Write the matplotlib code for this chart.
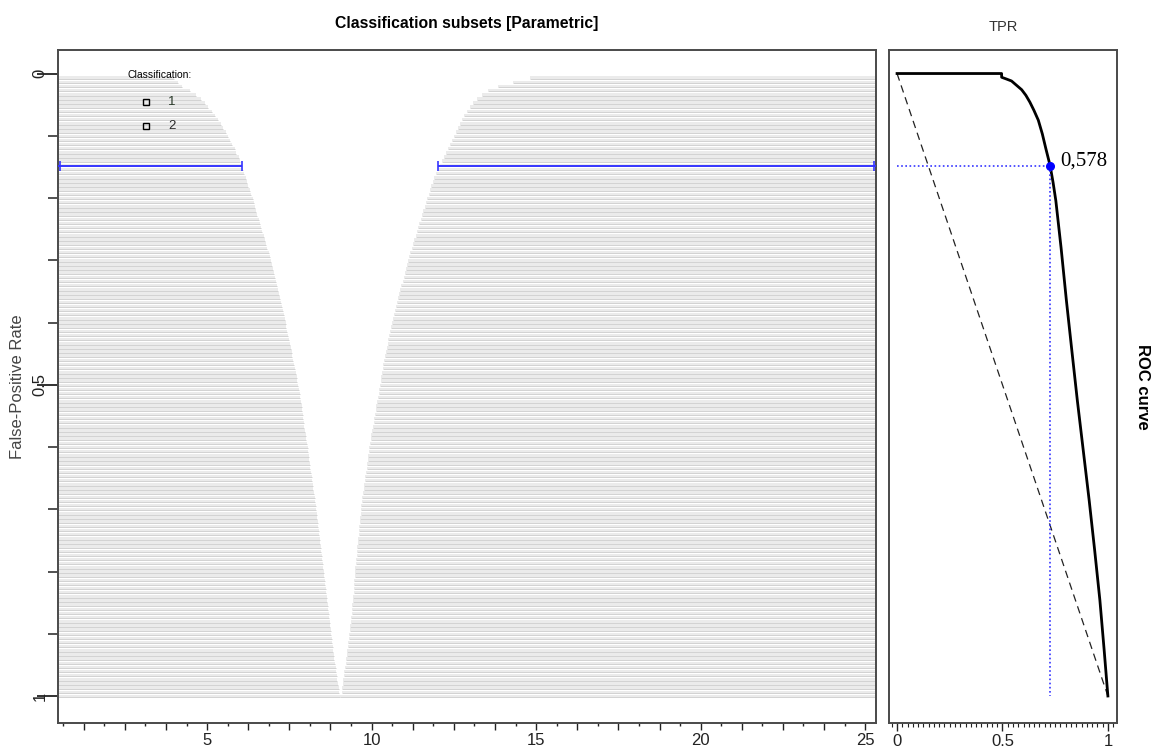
import numpy as np
import matplotlib
matplotlib.use("Agg")
import matplotlib.pyplot as plt
from matplotlib.ticker import MultipleLocator, FixedLocator, FuncFormatter

plt.rcParams['font.family'] = ['Liberation Sans', 'DejaVu Sans']

# classification subsets: one row per FPR level (k/150)
fpr_rows = np.arange(1, 151) / 150

# upper end of class-1 subset for each row
left_edge = [
    3.99, 4.12, 4.25, 4.47, 4.67, 4.82, 4.93, 5.04, 5.14, 5.25,
    5.33, 5.41, 5.49, 5.57, 5.65, 5.71, 5.77, 5.84, 5.89, 5.97,
    6.01, 6.06, 6.09, 6.13, 6.17, 6.21, 6.25, 6.29, 6.34, 6.39,
    6.42, 6.46, 6.50, 6.53, 6.57, 6.61, 6.64, 6.68, 6.72, 6.76,
    6.79, 6.83, 6.87, 6.90, 6.93, 6.97, 7.00, 7.03, 7.07, 7.10,
    7.13, 7.16, 7.20, 7.23, 7.26, 7.29, 7.31, 7.34, 7.36, 7.39,
    7.41, 7.44, 7.46, 7.49, 7.52, 7.54, 7.57, 7.59, 7.62, 7.64,
    7.67, 7.69, 7.72, 7.74, 7.77, 7.79, 7.81, 7.83, 7.85, 7.87,
    7.89, 7.91, 7.92, 7.94, 7.96, 7.98, 8.00, 8.02, 8.04, 8.06,
    8.08, 8.09, 8.11, 8.13, 8.14, 8.16, 8.18, 8.20, 8.21, 8.23,
    8.25, 8.27, 8.28, 8.30, 8.31, 8.33, 8.34, 8.36, 8.37, 8.39,
    8.40, 8.42, 8.43, 8.45, 8.46, 8.48, 8.49, 8.51, 8.52, 8.54,
    8.56, 8.57, 8.59, 8.60, 8.62, 8.64, 8.65, 8.67, 8.68, 8.70,
    8.71, 8.73, 8.74, 8.76, 8.77, 8.79, 8.80, 8.82, 8.83, 8.85,
    8.87, 8.89, 8.91, 8.92, 8.94, 8.96, 8.98, 9.00, 9.02, 9.04,
]

# lower end of class-2 subset for each row
right_edge = [
    14.80, 14.30, 13.85, 13.55, 13.35, 13.20, 13.09, 12.99, 12.91, 12.82,
    12.75, 12.69, 12.62, 12.56, 12.50, 12.44, 12.38, 12.32, 12.26, 12.20,
    12.14, 12.08, 12.02, 11.96, 11.91, 11.86, 11.81, 11.77, 11.73, 11.69,
    11.65, 11.61, 11.57, 11.53, 11.49, 11.45, 11.42, 11.38, 11.34, 11.30,
    11.26, 11.22, 11.18, 11.15, 11.11, 11.08, 11.04, 11.01, 10.97, 10.94,
    10.90, 10.87, 10.83, 10.80, 10.77, 10.74, 10.71, 10.68, 10.66, 10.63,
    10.60, 10.57, 10.54, 10.51, 10.49, 10.46, 10.43, 10.41, 10.39, 10.36,
    10.34, 10.32, 10.30, 10.28, 10.25, 10.23, 10.21, 10.19, 10.16, 10.14,
    10.12, 10.10, 10.08, 10.06, 10.04, 10.02, 9.99, 9.97, 9.95, 9.93,
    9.91, 9.90, 9.88, 9.86, 9.85, 9.83, 9.81, 9.79, 9.78, 9.76,
    9.74, 9.72, 9.71, 9.69, 9.68, 9.67, 9.66, 9.64, 9.63, 9.62,
    9.61, 9.59, 9.58, 9.57, 9.56, 9.55, 9.54, 9.53, 9.51, 9.50,
    9.49, 9.48, 9.47, 9.46, 9.45, 9.44, 9.43, 9.41, 9.40, 9.39,
    9.37, 9.36, 9.34, 9.33, 9.32, 9.30, 9.29, 9.27, 9.26, 9.24,
    9.22, 9.21, 9.19, 9.17, 9.16, 9.14, 9.12, 9.11, 9.09, 9.04,
]

# ROC curve (TPR on x, FPR on y)
roc_tpr = [0.000, 0.496, 0.496, 0.520, 0.543, 0.567, 0.591, 0.611, 0.630, 0.649,
           0.670, 0.689, 0.706, 0.726, 0.740, 0.753, 0.778, 0.803, 0.829, 0.855,
           0.883, 0.911, 0.937, 0.962, 0.982, 1.000]
roc_fpr = [0.000, 0.000, 0.006, 0.009, 0.012, 0.019, 0.026, 0.035, 0.046, 0.059,
           0.075, 0.097, 0.121, 0.148, 0.175, 0.204, 0.280, 0.364, 0.445, 0.525,
           0.605, 0.685, 0.765, 0.846, 0.925, 1.000]
chance = [0, 1]

# optimal cut (Youden)
opt_tpr = 0.726
opt_fpr = 0.148
opt_low = 6.06
opt_high = 12.02

x_lo, x_hi = 0.47, 25.33
step = 1 / 150
blue = '#3535ff'
spine_col = '#4a4a4a'

fig = plt.figure(figsize=(11.54, 7.54), dpi=100)
ax = fig.add_axes([0.0503, 0.0411, 0.7088, 0.8926])
ax2 = fig.add_axes([0.7704, 0.0411, 0.1975, 0.8926])

# left panel: grey subset rows
ax.barh(fpr_rows, np.array(left_edge) - x_lo, left=x_lo, height=0.6 * step,
        color='#ebebeb', linewidth=0)
ax.barh(fpr_rows, x_hi - np.array(right_edge), left=right_edge, height=0.6 * step,
        color='#ebebeb', linewidth=0)
ax.hlines(fpr_rows + 0.3 * step, x_lo, left_edge, color='#d2d2d2', lw=0.7)
ax.hlines(fpr_rows + 0.3 * step, right_edge, x_hi, color='#d2d2d2', lw=0.7)

# optimal subsets
ax.hlines(opt_fpr, x_lo, opt_low, color=blue, lw=1.4, zorder=4)
ax.hlines(opt_fpr, opt_high, x_hi, color=blue, lw=1.4, zorder=4)
ax.plot([x_lo + 0.05, opt_low, opt_high, x_hi - 0.05], [opt_fpr] * 4, '|',
        color=blue, ms=7, mew=1.2, zorder=5)

ax.set_xlim(x_lo, x_hi)
ax.set_ylim(1.0434, -0.0378)
ax.xaxis.set_major_locator(MultipleLocator(1.25))
ax.xaxis.set_minor_locator(MultipleLocator(0.625))
ax.xaxis.set_major_formatter(FuncFormatter(
    lambda v, p: f"{v:.0f}" if abs(v / 5 - round(v / 5)) < 1e-6 else ""))
ax.yaxis.set_major_locator(FixedLocator([0, 0.5, 1]))
ax.yaxis.set_minor_locator(MultipleLocator(0.1))
ax.yaxis.set_major_formatter(FuncFormatter(lambda v, p: f"{v:g}"))

ax.tick_params(axis='x', which='major', length=5, width=1, pad=2.5,
               colors='#222222', labelsize=12)
ax.tick_params(axis='x', which='minor', length=2.2, width=1, colors='#222222')
ax.tick_params(axis='y', which='major', length=15, width=1.3, pad=-7.5,
               labelrotation=90, colors='#222222', labelsize=12)
ax.tick_params(axis='y', which='minor', length=7.2, width=1.1, colors='#222222')
for lab in ax.get_yticklabels():
    lab.set_va('center')

ax.set_ylabel("False-Positive Rate", fontsize=12, color='#444444')
ax.yaxis.set_label_coords(-0.040, 0.5)
ax.set_title("Classification subsets [Parametric]", fontsize=11.3,
             fontweight='bold', pad=16)
for s in ax.spines.values():
    s.set_color(spine_col)
    s.set_linewidth(1.4)

# legend
ax.text(0.1247, 0.9629, "Classification:", transform=ax.transAxes,
        ha='center', va='center', fontsize=7.5)
ax.plot([0.1076], [0.9227], 's', mfc='none', mec='black', ms=4.5, mew=1,
        transform=ax.transAxes)
ax.plot([0.1076], [0.887], 's', mfc='none', mec='black', ms=3.8, mew=1,
        transform=ax.transAxes)
ax.text(0.1394, 0.9227, "1", transform=ax.transAxes, ha='center', va='center',
        fontsize=9.5, color='#2a3a2a')
ax.text(0.1394, 0.887, "2", transform=ax.transAxes, ha='center', va='center',
        fontsize=9.5, color='#2a2a2a')

# right panel: ROC curve
ax2.plot(chance, chance, color='#222222', lw=0.9, dashes=(6, 4))
ax2.plot(roc_tpr, roc_fpr, color='black', lw=2)
ax2.hlines(opt_fpr, 0, opt_tpr, color=blue, lw=1.2, linestyles=(0, (1, 1.5)))
ax2.vlines(opt_tpr, opt_fpr, 1, color=blue, lw=1.2, linestyles=(0, (1, 1.5)))
ax2.plot(opt_tpr, opt_fpr, 'o', color='#0000ff', ms=5.5, zorder=5)
ax2.annotate(f"{opt_tpr - opt_fpr:.3f}".replace('.', ','), (opt_tpr, opt_fpr),
             xytext=(7, 3), textcoords='offset points', ha='left', va='center',
             fontsize=15, family=['Liberation Serif', 'DejaVu Serif'])

ax2.set_xlim(-0.038, 1.043)
ax2.set_ylim(1.0434, -0.0378)
ax2.xaxis.set_major_locator(FixedLocator([0, 0.5, 1]))
ax2.xaxis.set_minor_locator(MultipleLocator(0.025))
ax2.xaxis.set_major_formatter(FuncFormatter(lambda v, p: f"{v:g}"))
ax2.set_yticks([])
ax2.tick_params(axis='x', which='major', length=5.8, width=1, pad=2,
                colors='#222222', labelsize=12)
ax2.tick_params(axis='x', which='minor', length=2.9, width=0.8, colors='#222222')
ax2.set_title("TPR", fontsize=10.5, color='#333333', pad=14)
ax2.yaxis.set_label_position('right')
ax2.set_ylabel("ROC curve", fontsize=12, fontweight='bold', rotation=-90,
               labelpad=24)
for s in ax2.spines.values():
    s.set_color(spine_col)
    s.set_linewidth(1.4)

fig.savefig("out.png", dpi=100)
